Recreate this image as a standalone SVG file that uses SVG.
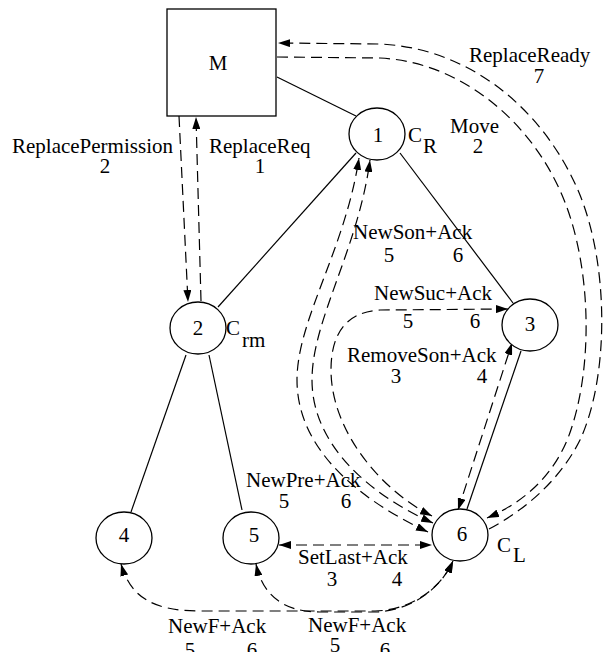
<svg xmlns="http://www.w3.org/2000/svg" width="605" height="652" viewBox="0 0 605 652">
  <style>
    text { font-family: "Liberation Serif", "Times New Roman", serif; font-size: 21px; fill: #000; }
    .mid { text-anchor: middle; }
    .node { fill: #fff; stroke: #000; stroke-width: 1.3; }
    .tree { fill: none; stroke: #000; stroke-width: 1.2; }
    .msg { fill: none; stroke: #000; stroke-width: 1.2; stroke-dasharray: 11 6; }
    .one { marker-end: url(#arrow); }
    .two { marker-start: url(#arrow); marker-end: url(#arrow); }
  </style>
  <defs>
    <marker id="arrow" viewBox="0 0 12 8" refX="12" refY="4" markerWidth="12" markerHeight="8" markerUnits="userSpaceOnUse" orient="auto-start-reverse">
      <path d="M0,0 L12,4 L0,8 Z" fill="#000"/>
    </marker>
  </defs>

  <rect width="605" height="652" fill="#fff"/>

  <!-- connectors: solid tree edges and dashed messages -->
  <g id="connectors">
    <line class="tree" x1="277" y1="77" x2="356" y2="116"/>
    <line class="tree" x1="356" y1="153" x2="218" y2="307"/>
    <line class="tree" x1="400" y1="153" x2="513" y2="303"/>
    <line class="tree" x1="186" y1="355" x2="131" y2="512"/>
    <line class="tree" x1="209" y1="355" x2="242" y2="510"/>
    <line class="tree" x1="521" y1="351" x2="467" y2="509"/>

    <!-- ReplacePermission / ReplaceReq -->
    <path class="msg one" d="M179,116 L188,302"/>
    <path class="msg one" d="M201,301 L196,117"/>

    <!-- ReplaceReady (outer) and Move (inner) -->
    <path class="msg one" d="M489,529 C525,510 560,480 580,440 C608,380 610,270 580,195 C545,110 470,48 380,44 L278,43"/>
    <path class="msg one" d="M277,57 L380,58 C460,62 530,120 562,195 C592,265 594,370 568,438 C552,478 522,503 487,518"/>

    <!-- NewSon+Ack (two) -->
    <path class="msg two" d="M428,532 C360,500 297,450 297,380 C297,320 345,250 359,158"/>
    <path class="msg two" d="M433,523 C370,495 312,445 312,380 C312,320 358,250 370,160"/>

    <!-- NewSuc+Ack -->
    <path class="msg two" d="M432,516 C380,490 331,430 331,370 C331,335 345,312 380,310 L508,309"/>

    <!-- RemoveSon+Ack -->
    <path class="msg two" d="M458,510 L512,343"/>

    <!-- SetLast+Ack -->
    <path class="msg two" d="M279,545 L432,545"/>

    <!-- NewF+Ack -->
    <path class="msg two" d="M121,564 C130,595 150,611 200,611 L375,611 C410,610 440,590 453,561"/>
    <path class="msg two" d="M256,564 C262,592 280,612 320,612 L375,612 C410,611 440,590 453,561"/>
  </g>

  <g id="node-M">
    <rect class="node" x="167" y="9" width="109" height="107"/>
    <text class="mid" x="218" y="70">M</text>
  </g>
  <g id="node-1">
    <ellipse class="node" cx="377" cy="134" rx="28" ry="26"/>
    <text class="mid" x="378" y="142">1</text>
    <text x="408" y="142">C</text>
    <text x="423" y="153">R</text>
  </g>
  <g id="node-2">
    <ellipse class="node" cx="198" cy="328" rx="28" ry="26"/>
    <text class="mid" x="198" y="335">2</text>
    <text x="226" y="335">C</text>
    <text x="242" y="347">rm</text>
  </g>
  <g id="node-3">
    <ellipse class="node" cx="530" cy="325" rx="28" ry="26"/>
    <text class="mid" x="530" y="331">3</text>
  </g>
  <g id="node-4">
    <ellipse class="node" cx="124" cy="538" rx="28" ry="26"/>
    <text class="mid" x="124" y="542">4</text>
  </g>
  <g id="node-5">
    <ellipse class="node" cx="251" cy="538" rx="28" ry="26"/>
    <text class="mid" x="254" y="542">5</text>
  </g>
  <g id="node-6">
    <ellipse class="node" cx="460" cy="535" rx="28" ry="26"/>
    <text class="mid" x="462" y="541">6</text>
    <text x="497" y="552">C</text>
    <text x="513" y="562">L</text>
  </g>

  <g id="labels">
    <text x="12" y="153">ReplacePermission</text>
    <text class="mid" x="105" y="173">2</text>
    <text x="209" y="153">ReplaceReq</text>
    <text class="mid" x="260" y="173">1</text>
    <text x="469" y="62">ReplaceReady</text>
    <text class="mid" x="539" y="83">7</text>
    <text x="450" y="133">Move</text>
    <text class="mid" x="478" y="153">2</text>
    <text x="353" y="239">NewSon+Ack</text>
    <text class="mid" x="389" y="262">5</text>
    <text class="mid" x="458" y="262">6</text>
    <text x="374" y="300">NewSuc+Ack</text>
    <text class="mid" x="408" y="328">5</text>
    <text class="mid" x="475" y="328">6</text>
    <text x="347" y="362">RemoveSon+Ack</text>
    <text class="mid" x="396" y="383">3</text>
    <text class="mid" x="482" y="383">4</text>
    <text x="246" y="487">NewPre+Ack</text>
    <text class="mid" x="284" y="508">5</text>
    <text class="mid" x="346" y="508">6</text>
    <text x="298" y="564">SetLast+Ack</text>
    <text class="mid" x="332" y="586">3</text>
    <text class="mid" x="397" y="586">4</text>
    <text x="168" y="633">NewF+Ack</text>
    <text class="mid" x="190" y="657">5</text>
    <text class="mid" x="252" y="657">6</text>
    <text x="308" y="632">NewF+Ack</text>
    <text class="mid" x="335" y="652">5</text>
    <text class="mid" x="385" y="657">6</text>
  </g>
</svg>
